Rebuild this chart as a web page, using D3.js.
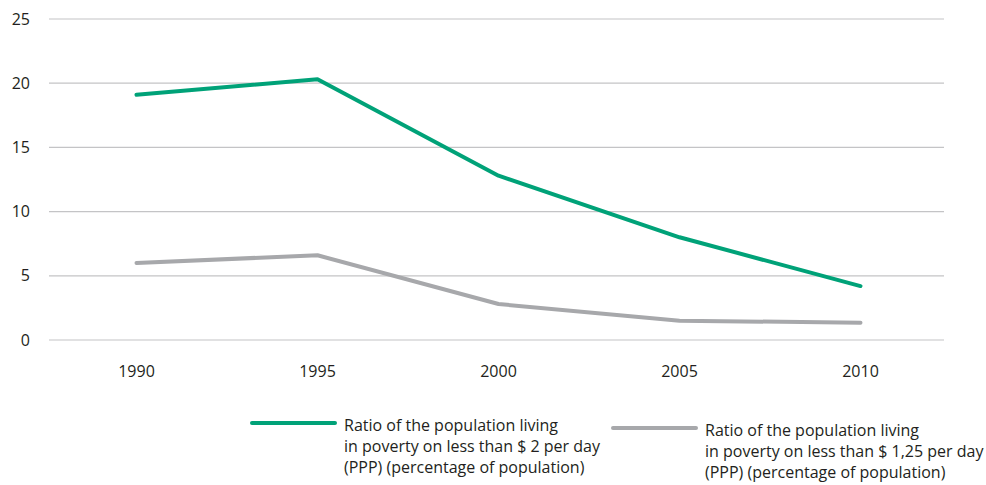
<!DOCTYPE html>
<html>
<head>
<meta charset="utf-8">
<script src="https://cdn.jsdelivr.net/npm/d3@7"></script>
<style>
  body { margin: 0; background: #fff; }
  svg text { font-family: "Open Sans", "Noto Sans", sans-serif; fill: #231f20; }
</style>
</head>
<body>
<div id="chart"></div>
<script>
  const years = ['1990', '1995', '2000', '2005', '2010'];
  const below2 = [19.1, 20.3, 12.8, 8.0, 4.2];
  const below125 = [6.0, 6.6, 2.8, 1.5, 1.35];
  const yTicks = [0, 5, 10, 15, 20, 25];
  const legendLabels = [
    ['Ratio of the population living', 'in poverty on less than $ 2 per day', '(PPP) (percentage of population)'],
    ['Ratio of the population living', 'in poverty on less than $ 1,25 per day', '(PPP) (percentage of population)']
  ];

  const W = 986, H = 485;
  const svg = d3.select('#chart')
    .append('svg')
    .attr('width', W)
    .attr('height', H);

  // Scales
  const x = d3.scalePoint()
    .domain(years)
    .range([46, 951])
    .padding(0.5);

  const y = d3.scaleLinear()
    .domain([0, 25])
    .range([340, 19]);

  // Gridlines
  svg.append('g')
    .selectAll('line')
    .data(yTicks)
    .enter()
    .append('line')
    .attr('x1', 49)
    .attr('x2', 944)
    .attr('y1', d => y(d))
    .attr('y2', d => y(d))
    .attr('stroke', '#c4c4c6')
    .attr('stroke-width', 1.2);

  // Y axis labels
  svg.append('g')
    .selectAll('text')
    .data(yTicks)
    .enter()
    .append('text')
    .attr('x', 30)
    .attr('y', d => y(d) + 5.5)
    .attr('text-anchor', 'end')
    .style('font-size', '16px')
    .text(d => d);

  // X axis labels
  svg.append('g')
    .selectAll('text')
    .data(years)
    .enter()
    .append('text')
    .attr('x', d => x(d))
    .attr('y', 377)
    .attr('text-anchor', 'middle')
    .style('font-size', '16px')
    .text(d => d);

  const line = d3.line()
    .x((d, i) => x(years[i]))
    .y(d => y(d));

  const series = [
    { values: below2, color: '#00a278' },
    { values: below125, color: '#a7a8ab' }
  ];

  series.slice().reverse().forEach(s => {
    svg.append('path')
      .datum(s.values)
      .attr('fill', 'none')
      .attr('stroke', s.color)
      .attr('stroke-width', 4)
      .attr('stroke-linecap', 'round')
      .attr('stroke-linejoin', 'round')
      .attr('d', line);
  });

  // Legend
  const legendPos = [
    { x: 252, y: 423 },
    { x: 613, y: 428 }
  ];

  series.forEach((s, i) => {
    const g = svg.append('g')
      .attr('transform', `translate(${legendPos[i].x},${legendPos[i].y})`);
    g.append('line')
      .attr('x1', 0)
      .attr('x2', 83)
      .attr('stroke', s.color)
      .attr('stroke-width', 4)
      .attr('stroke-linecap', 'round');
    g.append('text')
      .attr('x', 92)
      .attr('y', 8)
      .style('font-size', '16px')
      .selectAll('tspan')
      .data(legendLabels[i])
      .enter()
      .append('tspan')
      .attr('x', 92)
      .attr('dy', (d, j) => j === 0 ? 0 : 21)
      .text(d => d);
  });
</script>
</body>
</html>
